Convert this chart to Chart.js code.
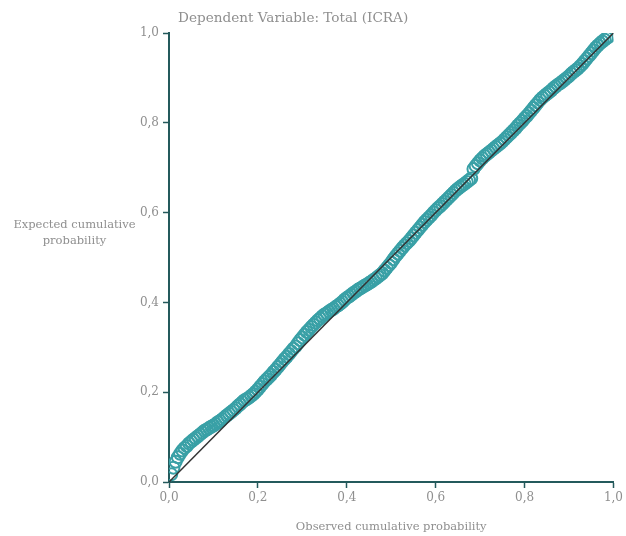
<!DOCTYPE html>
<html>
<head>
<meta charset="utf-8">
<script src="https://cdn.jsdelivr.net/npm/chart.js@4/dist/chart.umd.min.js"></script>
<style>
  html, body { margin: 0; padding: 0; background: #fff; }
  #wrap { position: relative; width: 626px; height: 536px; }
  canvas { position: absolute; left: 0; top: 0; }
  .txt { position: absolute; font-family: "DejaVu Serif", serif; color: #8f8f8f; white-space: nowrap; }
  #title { left: 178px; top: 9px; font-size: 13.6px; }
  #ylab { left: 0; width: 149px; top: 216px; font-size: 11.5px; line-height: 16px; text-align: center; }
</style>
</head>
<body>
<div id="wrap">
  <canvas id="c" width="626" height="536"></canvas>
  <div class="txt" id="title">Dependent Variable: Total (ICRA)</div>
  <div class="txt" id="ylab">Expected cumulative<br>probability</div>
</div>
<script>
const chartTitle = "Dependent Variable: Total (ICRA)";
const xAxisTitle = "Observed cumulative probability";
const xTickLabels = ["0,0", "0,2", "0,4", "0,6", "0,8", "1,0"];
const yTickLabels = ["0,0", "0,2", "0,4", "0,6", "0,8", "1,0"];

const observed = [
  0.005, 0.010, 0.015, 0.020, 0.025, 0.030, 0.035, 0.040, 0.045, 0.050,
  0.055, 0.060, 0.065, 0.070, 0.075, 0.080, 0.085, 0.090, 0.095, 0.100,
  0.105, 0.110, 0.115, 0.120, 0.125, 0.130, 0.135, 0.140, 0.145, 0.150,
  0.155, 0.160, 0.165, 0.170, 0.175, 0.180, 0.185, 0.190, 0.195, 0.200,
  0.205, 0.210, 0.215, 0.220, 0.225, 0.230, 0.235, 0.240, 0.245, 0.250,
  0.255, 0.260, 0.265, 0.270, 0.275, 0.280, 0.285, 0.290, 0.295, 0.300,
  0.305, 0.310, 0.315, 0.320, 0.325, 0.330, 0.335, 0.340, 0.345, 0.350,
  0.355, 0.360, 0.365, 0.370, 0.375, 0.380, 0.385, 0.390, 0.395, 0.400,
  0.405, 0.410, 0.415, 0.420, 0.425, 0.430, 0.435, 0.440, 0.445, 0.450,
  0.455, 0.460, 0.465, 0.470, 0.475, 0.480, 0.485, 0.490, 0.495, 0.500,
  0.505, 0.510, 0.515, 0.520, 0.525, 0.530, 0.535, 0.540, 0.545, 0.550,
  0.555, 0.560, 0.565, 0.570, 0.575, 0.580, 0.585, 0.590, 0.595, 0.600,
  0.605, 0.610, 0.615, 0.620, 0.625, 0.630, 0.635, 0.640, 0.645, 0.650,
  0.655, 0.660, 0.665, 0.670, 0.675, 0.680, 0.685, 0.690, 0.695, 0.700,
  0.705, 0.710, 0.715, 0.720, 0.725, 0.730, 0.735, 0.740, 0.745, 0.750,
  0.755, 0.760, 0.765, 0.770, 0.775, 0.780, 0.785, 0.790, 0.795, 0.800,
  0.805, 0.810, 0.815, 0.820, 0.825, 0.830, 0.835, 0.840, 0.845, 0.850,
  0.855, 0.860, 0.865, 0.870, 0.875, 0.880, 0.885, 0.890, 0.895, 0.900,
  0.905, 0.910, 0.915, 0.920, 0.925, 0.930, 0.935, 0.940, 0.945, 0.950,
  0.955, 0.960, 0.965, 0.970, 0.975, 0.980, 0.985, 0.990
];
const expected = [
  0.017, 0.032, 0.045, 0.055, 0.063, 0.070, 0.076, 0.080, 0.086, 0.090,
  0.094, 0.098, 0.102, 0.106, 0.110, 0.114, 0.117, 0.120, 0.123, 0.126,
  0.129, 0.133, 0.136, 0.140, 0.144, 0.148, 0.152, 0.156, 0.160, 0.164,
  0.169, 0.173, 0.178, 0.182, 0.185, 0.188, 0.192, 0.196, 0.201, 0.206,
  0.212, 0.218, 0.224, 0.229, 0.234, 0.239, 0.245, 0.250, 0.256, 0.262,
  0.268, 0.274, 0.279, 0.285, 0.291, 0.297, 0.302, 0.309, 0.316, 0.322,
  0.328, 0.334, 0.339, 0.345, 0.350, 0.355, 0.360, 0.364, 0.369, 0.373,
  0.376, 0.380, 0.383, 0.386, 0.390, 0.393, 0.397, 0.401, 0.406, 0.410,
  0.413, 0.417, 0.421, 0.424, 0.428, 0.431, 0.434, 0.437, 0.440, 0.443,
  0.446, 0.450, 0.453, 0.457, 0.461, 0.465, 0.471, 0.477, 0.483, 0.489,
  0.496, 0.503, 0.509, 0.515, 0.521, 0.527, 0.532, 0.537, 0.543, 0.549,
  0.555, 0.561, 0.567, 0.573, 0.579, 0.584, 0.589, 0.594, 0.600, 0.605,
  0.610, 0.614, 0.619, 0.624, 0.629, 0.634, 0.639, 0.644, 0.649, 0.653,
  0.657, 0.661, 0.664, 0.668, 0.672, 0.676, 0.697, 0.704, 0.710, 0.716,
  0.721, 0.726, 0.730, 0.734, 0.738, 0.742, 0.746, 0.750, 0.754, 0.758,
  0.763, 0.768, 0.773, 0.778, 0.783, 0.788, 0.794, 0.799, 0.804, 0.810,
  0.815, 0.821, 0.827, 0.833, 0.839, 0.845, 0.851, 0.856, 0.860, 0.864,
  0.868, 0.872, 0.877, 0.881, 0.885, 0.888, 0.892, 0.896, 0.900, 0.904,
  0.909, 0.913, 0.917, 0.921, 0.926, 0.931, 0.937, 0.943, 0.949, 0.955,
  0.961, 0.967, 0.972, 0.977, 0.981, 0.985, 0.989, 0.992
];
const refLineX = [0, 1];
const refLineY = [0, 1];

const axisColor = "#245a5c";
const textColor = "#8f8f8f";
const fontFamily = "'DejaVu Serif', serif";

const points = observed.map((v, i) => ({ x: v, y: expected[i] }));
const refLine = refLineX.map((v, i) => ({ x: v, y: refLineY[i] }));

new Chart(document.getElementById("c"), {
  type: "scatter",
  data: {
    datasets: [
      {
        type: "line",
        data: refLine,
        borderColor: "#333333",
        borderWidth: 1.5,
        pointRadius: 0,
        fill: false,
        order: 0
      },
      {
        data: points,
        pointStyle: "circle",
        pointRadius: 6,
        pointBorderWidth: 2,
        pointBorderColor: "#39a0a6",
        pointBackgroundColor: "rgba(255,255,255,0)",
        order: 1
      }
    ]
  },
  options: {
    responsive: false,
    animation: false,
    events: [],
    layout: { padding: { top: 33, right: 9, left: 0, bottom: 0 } },
    plugins: { legend: { display: false }, tooltip: { enabled: false }, title: { display: false } },
    scales: {
      x: {
        type: "linear",
        min: 0, max: 1,
        afterFit: (s) => { s.height = 54; },
        border: { color: axisColor, width: 2 },
        grid: { drawOnChartArea: false, tickLength: 6, tickColor: axisColor, tickWidth: 1.5 },
        ticks: {
          stepSize: 0.2,
          padding: 3,
          color: textColor,
          font: { family: fontFamily, size: 12 },
          callback: (v, i) => xTickLabels[i]
        },
        title: {
          display: true,
          text: xAxisTitle,
          color: textColor,
          font: { family: fontFamily, size: 11.5 },
          padding: { top: 4, bottom: 2 }
        }
      },
      y: {
        type: "linear",
        min: 0, max: 1,
        afterFit: (s) => { s.width = 169; },
        border: { color: axisColor, width: 2 },
        grid: { drawOnChartArea: false, tickLength: 6, tickColor: axisColor, tickWidth: 1.5 },
        ticks: {
          stepSize: 0.2,
          padding: 4,
          color: textColor,
          font: { family: fontFamily, size: 12 },
          callback: (v, i) => yTickLabels[i]
        }
      }
    }
  }
});
</script>
</body>
</html>
